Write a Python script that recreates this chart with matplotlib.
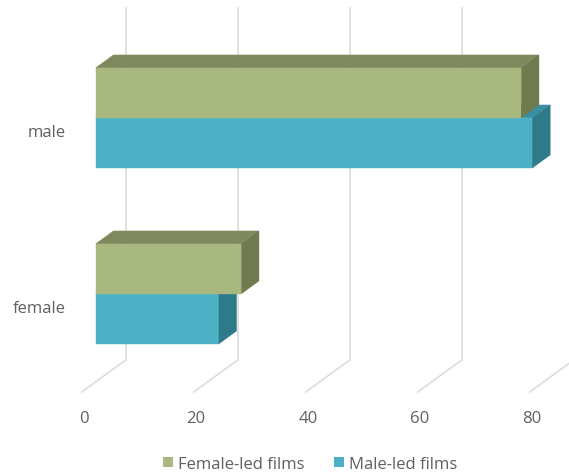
import matplotlib.pyplot as plt
from matplotlib.patches import Polygon, Patch

plt.rcParams['font.family'] = ['Open Sans', 'DejaVu Sans']

# data
categories = ['female', 'male']
series = ['Female-led films', 'Male-led films']
female_led = [26, 76]
male_led = [22, 78]
xticks = [0, 20, 40, 60, 80]

# colours: front, top, side
green = ('#A9B87F', '#7E8A5D', '#6F7B4E')
teal = ('#4DB1C6', '#3A8FA3', '#2F7A89')
grid_col = '#DCDCDC'
text_col = '#606060'

# oblique depth (full depth from back plane to front floor), in data units
DX, DY = -44 / 5.6, -32 / 176
T_FRONT, T_BACK = 0.68, 0.28   # bar depth fractions
H = 50 / 176                    # bar thickness


def sh(x, y, t):
    return (x + DX * t, y + DY * t)


def box(ax, v, y0, y1, cols):
    front, top, side = cols
    f = [sh(0, y0, T_FRONT), sh(v, y0, T_FRONT), sh(v, y1, T_FRONT), sh(0, y1, T_FRONT)]
    tp = [sh(0, y1, T_FRONT), sh(v, y1, T_FRONT), sh(v, y1, T_BACK), sh(0, y1, T_BACK)]
    sd = [sh(v, y0, T_FRONT), sh(v, y0, T_BACK), sh(v, y1, T_BACK), sh(v, y1, T_FRONT)]
    for pts, c in ((f, front), (tp, top), (sd, side)):
        ax.add_patch(Polygon(pts, closed=True, facecolor=c, edgecolor=c, lw=0.3))


fig = plt.figure(figsize=(5.69, 4.77), dpi=100)
ax = fig.add_axes([0, 0, 1, 1])
ax.set_xlim(-125.7 / 5.6, (569 - 125.7) / 5.6)
ax.set_ylim(1.5 - 468 / 176, 1.5 + 9 / 176)
ax.axis('off')

# gridlines: back wall verticals plus floor diagonals
for xv in xticks:
    ax.plot([xv, xv], [-0.5, 1.5], color=grid_col, lw=1.2, zorder=1)
    ax.plot([xv, xv + DX], [-0.5, -0.5 + DY], color=grid_col, lw=1.2, zorder=1)
    ax.text(xv + DX + 0.4, -0.5 + DY - 26 / 176, str(xv), ha='center', va='center',
            fontsize=12, color=text_col)

for i, cat in enumerate(categories):
    box(ax, male_led[i], i - H, i, teal)
    box(ax, female_led[i], i, i + H, green)
    ax.text(DX - 16 / 5.6, i + DY - 0.02, cat, ha='right', va='center',
            fontsize=12, color=text_col)

handles = [Patch(facecolor=green[0], edgecolor='none'), Patch(facecolor=teal[0], edgecolor='none')]
fig.legend(handles, series, loc='center', bbox_to_anchor=(0.545, 12 / 477), ncol=2,
           frameon=False, fontsize=12, labelcolor=text_col, handlelength=0.6,
           handleheight=0.6, handletextpad=0.3, columnspacing=1.8)

fig.savefig('out.png', dpi=100)
